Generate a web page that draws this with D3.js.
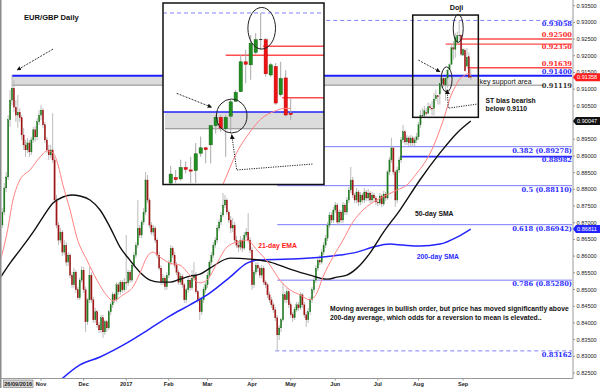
<!DOCTYPE html>
<html>
<head>
<meta charset="utf-8">
<title>EUR/GBP Daily</title>
<script src="https://cdn.jsdelivr.net/npm/d3@7/dist/d3.min.js"></script>
<style>
  body { margin: 0; background: #fff; }
  svg { display: block; font-family: "Liberation Sans", Arial, sans-serif; }
</style>
</head>
<body>
<svg id="chart" width="600" height="388"></svg>
<script>
// ---------- data (daily EUR/GBP candles, [open, high, low, close]) ----------
// bar 0 = 26 Sep 2016, one bar per trading day; first drawn bar is 4 Oct 2016
const firstBar = 6;

const oct16 = [
  [0.8693,0.8744,0.8684,0.8732],[0.8732,0.8819,0.8723,0.8804],[0.8804,0.8852,0.8792,0.8837],
  [0.8837,0.9022,0.8828,0.9008],[0.9008,0.9097,0.8987,0.9067],[0.9067,0.9142,0.9052,0.9103],
  [0.9103,0.9127,0.9031,0.9046],[0.9046,0.9067,0.9002,0.9022],[0.9022,0.9082,0.8984,0.9031],
  [0.9031,0.9043,0.9002,0.9014],[0.9014,0.9022,0.8948,0.8963],[0.8963,0.8984,0.8918,0.8933],
  [0.8933,0.8948,0.8897,0.8918],[0.8918,0.8954,0.8909,0.8939],[0.8939,0.8948,0.8897,0.8912],
  [0.8912,0.8957,0.8903,0.8948],[0.8948,0.8987,0.8939,0.8978],[0.8978,0.8990,0.8942,0.8957],
  [0.8957,0.9014,0.8948,0.9002],[0.9002,0.9037,0.8993,0.9022]
];
const nov16 = [
  [0.9022,0.9052,0.9008,0.9037],[0.9037,0.9043,0.8984,0.8993],[0.8993,0.9002,0.8939,0.8948],
  [0.8948,0.8957,0.8909,0.8918],[0.8918,0.8933,0.8888,0.8903],[0.8903,0.8933,0.8894,0.8918],
  [0.8918,0.9028,0.8879,0.8888],[0.8888,0.8897,0.8759,0.8768],[0.8768,0.8783,0.8684,0.8693],
  [0.8693,0.8702,0.8633,0.8648],[0.8648,0.8684,0.8639,0.8672],[0.8672,0.8678,0.8600,0.8612],
  [0.8612,0.8648,0.8603,0.8633],[0.8633,0.8642,0.8570,0.8582],[0.8582,0.8612,0.8570,0.8603],
  [0.8603,0.8609,0.8534,0.8543],[0.8543,0.8552,0.8505,0.8514],[0.8514,0.8564,0.8505,0.8552],
  [0.8552,0.8558,0.8490,0.8499],[0.8499,0.8508,0.8469,0.8475],[0.8475,0.8534,0.8469,0.8528],
  [0.8528,0.8570,0.8520,0.8558]
];
const dec16 = [
  [0.8558,0.8567,0.8490,0.8499],[0.8499,0.8508,0.8373,0.8403],[0.8403,0.8475,0.8394,0.8469],
  [0.8469,0.8567,0.8460,0.8543],[0.8543,0.8552,0.8460,0.8469],[0.8469,0.8478,0.8400,0.8409],
  [0.8409,0.8445,0.8400,0.8433],[0.8433,0.8439,0.8385,0.8394],[0.8394,0.8403,0.8370,0.8379],
  [0.8379,0.8424,0.8370,0.8415],[0.8415,0.8424,0.8355,0.8373],[0.8373,0.8409,0.8364,0.8403],
  [0.8403,0.8409,0.8373,0.8385],[0.8385,0.8439,0.8379,0.8433],[0.8433,0.8463,0.8424,0.8454],
  [0.8454,0.8493,0.8445,0.8484],[0.8484,0.8490,0.8460,0.8469],[0.8469,0.8522,0.8463,0.8514],
  [0.8514,0.8520,0.8484,0.8493],[0.8493,0.8528,0.8484,0.8522],[0.8522,0.8528,0.8490,0.8499],
  [0.8499,0.8534,0.8493,0.8522]
];
const jan17 = [
  [0.8522,0.8663,0.8499,0.8520],[0.8520,0.8558,0.8511,0.8552],[0.8552,0.8558,0.8520,0.8528],
  [0.8528,0.8582,0.8522,0.8573],[0.8573,0.8612,0.8564,0.8603],[0.8603,0.8642,0.8594,0.8633],
  [0.8633,0.8768,0.8624,0.8684],[0.8684,0.8693,0.8654,0.8663],[0.8663,0.8708,0.8654,0.8702],
  [0.8702,0.8744,0.8693,0.8732],[0.8732,0.8852,0.8723,0.8828],[0.8828,0.8843,0.8759,0.8768],
  [0.8768,0.8774,0.8684,0.8693],[0.8693,0.8702,0.8663,0.8672],[0.8672,0.8693,0.8660,0.8684],
  [0.8684,0.8690,0.8639,0.8648],[0.8648,0.8654,0.8594,0.8603],[0.8603,0.8612,0.8558,0.8564],
  [0.8564,0.8573,0.8514,0.8522],[0.8522,0.8546,0.8514,0.8534],[0.8534,0.8540,0.8499,0.8508],
  [0.8508,0.8552,0.8499,0.8543]
];
const feb17 = [
  [0.8543,0.8588,0.8534,0.8582],[0.8582,0.8633,0.8573,0.8624],[0.8624,0.8630,0.8594,0.8603],
  [0.8603,0.8612,0.8564,0.8573],[0.8573,0.8582,0.8543,0.8552],[0.8552,0.8558,0.8514,0.8522],
  [0.8522,0.8549,0.8514,0.8540],[0.8540,0.8546,0.8505,0.8514],[0.8514,0.8520,0.8460,0.8469],
  [0.8469,0.8505,0.8460,0.8499],[0.8499,0.8537,0.8490,0.8528],[0.8528,0.8534,0.8496,0.8505],
  [0.8505,0.8558,0.8499,0.8534],[0.8534,0.8582,0.8525,0.8543],[0.8543,0.8552,0.8487,0.8493],
  [0.8493,0.8499,0.8460,0.8469],[0.8469,0.8478,0.8409,0.8433],[0.8433,0.8475,0.8424,0.8469],
  [0.8469,0.8508,0.8460,0.8499],[0.8499,0.8522,0.8490,0.8514]
];
const mar17 = [
  [0.8514,0.8552,0.8505,0.8543],[0.8543,0.8588,0.8534,0.8582],[0.8582,0.8612,0.8573,0.8603],
  [0.8603,0.8642,0.8594,0.8633],[0.8633,0.8657,0.8624,0.8648],[0.8648,0.8693,0.8639,0.8684],
  [0.8684,0.8711,0.8675,0.8702],[0.8702,0.8732,0.8693,0.8723],[0.8723,0.8789,0.8717,0.8753],
  [0.8753,0.8783,0.8744,0.8768],[0.8768,0.8774,0.8723,0.8732],[0.8732,0.8738,0.8699,0.8708],
  [0.8708,0.8720,0.8669,0.8684],[0.8684,0.8714,0.8672,0.8693],[0.8693,0.8702,0.8639,0.8648],
  [0.8648,0.8660,0.8624,0.8633],[0.8633,0.8642,0.8612,0.8627],[0.8627,0.8660,0.8618,0.8648],
  [0.8648,0.8654,0.8612,0.8624],[0.8624,0.8672,0.8618,0.8663],[0.8663,0.8684,0.8654,0.8672],
  [0.8672,0.8729,0.8639,0.8648],[0.8648,0.8657,0.8609,0.8618]
];
const apr17 = [
  [0.8618,0.8627,0.8499,0.8514],[0.8514,0.8558,0.8505,0.8552],[0.8552,0.8582,0.8543,0.8573],
  [0.8573,0.8582,0.8552,0.8564],[0.8564,0.8570,0.8534,0.8543],[0.8543,0.8573,0.8534,0.8564],
  [0.8564,0.8570,0.8514,0.8522],[0.8522,0.8528,0.8505,0.8514],[0.8514,0.8520,0.8475,0.8484],
  [0.8484,0.8493,0.8460,0.8469],[0.8469,0.8478,0.8445,0.8454],[0.8454,0.8463,0.8430,0.8439],
  [0.8439,0.8448,0.8406,0.8415],[0.8415,0.8424,0.8316,0.8364],[0.8364,0.8394,0.8349,0.8385],
  [0.8385,0.8415,0.8373,0.8409],[0.8409,0.8520,0.8403,0.8484],[0.8484,0.8493,0.8460,0.8469],
  [0.8469,0.8505,0.8460,0.8493],[0.8493,0.8499,0.8445,0.8454]
];
const may17 = [
  [0.8454,0.8463,0.8415,0.8424],[0.8424,0.8433,0.8403,0.8415],[0.8415,0.8448,0.8409,0.8439],
  [0.8439,0.8463,0.8433,0.8454],[0.8454,0.8463,0.8436,0.8445],[0.8445,0.8493,0.8439,0.8484],
  [0.8484,0.8490,0.8445,0.8454],[0.8454,0.8463,0.8415,0.8424],[0.8424,0.8433,0.8388,0.8409],
  [0.8409,0.8445,0.8400,0.8433],[0.8433,0.8478,0.8424,0.8469],[0.8469,0.8508,0.8460,0.8499],
  [0.8499,0.8537,0.8490,0.8528],[0.8528,0.8573,0.8520,0.8564],[0.8564,0.8597,0.8555,0.8588],
  [0.8588,0.8603,0.8573,0.8582],[0.8582,0.8621,0.8576,0.8612],[0.8612,0.8642,0.8603,0.8633],
  [0.8633,0.8663,0.8624,0.8654],[0.8654,0.8702,0.8645,0.8693],[0.8693,0.8732,0.8684,0.8723],
  [0.8723,0.8732,0.8699,0.8708],[0.8708,0.8747,0.8699,0.8738]
];
const jun17 = [
  [0.8738,0.8762,0.8729,0.8753],[0.8753,0.8759,0.8693,0.8702],[0.8702,0.8741,0.8693,0.8732],
  [0.8732,0.8738,0.8699,0.8708],[0.8708,0.8762,0.8699,0.8753],[0.8753,0.8759,0.8723,0.8732],
  [0.8732,0.8777,0.8723,0.8768],[0.8768,0.8807,0.8759,0.8798],[0.8798,0.8867,0.8789,0.8828],
  [0.8828,0.8837,0.8774,0.8783],[0.8783,0.8789,0.8759,0.8768],[0.8768,0.8804,0.8759,0.8792],
  [0.8792,0.8798,0.8750,0.8762],[0.8762,0.8792,0.8753,0.8783],[0.8783,0.8789,0.8759,0.8768],
  [0.8768,0.8804,0.8759,0.8792],[0.8792,0.8798,0.8765,0.8774],[0.8774,0.8801,0.8765,0.8789],
  [0.8789,0.8795,0.8759,0.8768],[0.8768,0.8792,0.8759,0.8783],[0.8783,0.8789,0.8765,0.8774],
  [0.8774,0.8780,0.8753,0.8762]
];
const jul17 = [
  [0.8762,0.8768,0.8750,0.8759],[0.8759,0.8789,0.8753,0.8780],[0.8780,0.8786,0.8747,0.8756],
  [0.8756,0.8795,0.8750,0.8786],[0.8786,0.8792,0.8765,0.8774],[0.8774,0.8858,0.8768,0.8852],
  [0.8852,0.8897,0.8843,0.8888],[0.8888,0.8954,0.8879,0.8924],[0.8924,0.8930,0.8843,0.8852],
  [0.8852,0.8858,0.8747,0.8768],[0.8768,0.8867,0.8759,0.8858],[0.8858,0.8897,0.8849,0.8888],
  [0.8888,0.8957,0.8879,0.8948],[0.8948,0.8993,0.8939,0.8972],[0.8972,0.8978,0.8933,0.8942],
  [0.8942,0.8963,0.8933,0.8954],[0.8954,0.8960,0.8930,0.8939],[0.8939,0.8963,0.8930,0.8954],
  [0.8954,0.8960,0.8927,0.8939],[0.8939,0.8957,0.8930,0.8948],[0.8948,0.8969,0.8939,0.8957]
];
const aug17 = [
  [0.8957,0.9002,0.8948,0.8993],[0.8993,0.9037,0.8984,0.9022],[0.9022,0.9043,0.9014,0.9021],
  [0.9021,0.9050,0.9015,0.9036],[0.9030,0.9043,0.9021,0.9027],[0.9028,0.9060,0.9025,0.9047],
  [0.9047,0.9057,0.9037,0.9044],[0.9043,0.9065,0.9021,0.9041],[0.9042,0.9088,0.9021,0.9070],
  [0.9071,0.9099,0.9065,0.9080],[0.9080,0.9082,0.9054,0.9077],[0.9085,0.9118,0.9054,0.9117],
  [0.9117,0.9135,0.9104,0.9131],[0.9131,0.9135,0.9107,0.9113],[0.9112,0.9135,0.9065,0.9131],
  [0.9133,0.9160,0.9104,0.9157],[0.9158,0.9177,0.9157,0.9173],[0.9174,0.9236,0.9174,0.9224],
  [0.9224,0.9244,0.9188,0.9220],[0.9219,0.9269,0.9194,0.9255],[0.9240,0.9272,0.9236,0.9261],
  [0.9262,0.93058,0.9244,0.9261],[0.9261,0.9264,0.9199,0.9204]
];
const sep17 = [
  [0.9202,0.9222,0.9199,0.9219],[0.9216,0.9222,0.9152,0.9155],[0.9169,0.9224,0.9166,0.9196],
  [0.9197,0.9210,0.9133,0.9135],[0.9138,0.9163,0.9127,0.91358]
];

// moving averages, sampled [bar, value]
const ema21 = [
  [4.8,0.8582],[8.4,0.8669],[11.5,0.8768],[15.1,0.8828],[20.3,0.8858],[25.5,0.8897],[29.1,0.8915],
  [32.2,0.8909],[34.8,0.8873],[37.3,0.8813],[41,0.8738],[44.6,0.8654],[49.7,0.8588],[54.9,0.8528],
  [60.1,0.8481],[63.2,0.8466],[68.3,0.8484],[73.5,0.8508],[77.1,0.8549],[80.7,0.8597],[83.8,0.8612],
  [87.4,0.8597],[92.6,0.8579],[97.8,0.8573],[102.9,0.8543],[108.1,0.8520],[111.7,0.8528],[116.9,0.8579],
  [122,0.8627],[127.2,0.8642],[132.4,0.8648],[137.6,0.8618],[144.3,0.8573],[149.4,0.8528],[154.6,0.8499],
  [159.8,0.8484],[164.9,0.8469],[168.5,0.8490],[171.6,0.8537],[176.8,0.8597],[182,0.8648],[187.1,0.8702],
  [192.3,0.8738],[199.5,0.8768],[204.7,0.8783],[209.9,0.8798],[215,0.8813],[220.2,0.8849],[224,0.8878],
  [228,0.8920],[232,0.8978],[234.5,0.9020],[237.2,0.9072],[240,0.9108],[242,0.9128],[244.7,0.9141],
  [246.7,0.9146],[248,0.9146]
];
const sma50 = [
  [4.8,0.8534],[10,0.8579],[15.1,0.8618],[21.9,0.8672],[27,0.8717],[32.2,0.8759],[37.3,0.8777],
  [42,0.8783],[46.1,0.8780],[51.3,0.8768],[56.5,0.8738],[61.6,0.8687],[66.8,0.8627],[71.9,0.8588],
  [77.1,0.8552],[82.3,0.8528],[87.4,0.8522],[92.6,0.8522],[97.8,0.8531],[102.9,0.8540],[108.1,0.8546],
  [113.3,0.8564],[123.6,0.8594],[133.9,0.8591],[144.3,0.8582],[154.6,0.8561],[164.9,0.8543],
  [173.7,0.8531],[178.9,0.8537],[184,0.8543],[189.2,0.8564],[195.9,0.8609],[202.6,0.8669],
  [211.4,0.8738],[221.7,0.8828],[232.1,0.8909],[240.9,0.8969],[248,0.90047]
];
const sma200 = [
  [36.5,0.8231],[46.1,0.8274],[56.5,0.8298],[70.4,0.8340],[81.3,0.8379],[92.6,0.8421],[102.9,0.8454],
  [113.3,0.8490],[123.6,0.8537],[132.4,0.8579],[137.6,0.8588],[154.6,0.8591],[171.6,0.8597],
  [180.4,0.8603],[189.2,0.8612],[197.5,0.8627],[206.2,0.8636],[212.9,0.8633],[221.7,0.8630],
  [232.1,0.8636],[240.9,0.8657],[248,0.86811]
];

// horizontal levels
const fibLevels = [
  { value: 0.93058, label: "0.93058",         from: 148,   dy: 3,   dashed: true },
  { value: 0.89278, label: "0.382 (0.89278)", from: 148,   dy: 4 },
  { value: 0.88982, label: "0.88982",         from: 211.4, dy: 3.5, bold: true },
  { value: 0.88110, label: "0.5 (0.88110)",   from: 148,   dy: 4 },
  { value: 0.86942, label: "0.618 (0.86942)", from: 148,   dy: 4 },
  { value: 0.85280, label: "0.786 (0.85280)", from: 148,   dy: 3.5 },
  { value: 0.83162, label: "0.83162",         from: 147,   dy: 3.5, dashed: true }
];
const redLevels = [
  { value: 0.92500, label: "0.92500", from: 242.5, dy: -4 },
  { value: 0.92350, label: "0.92350", from: 235,   dy: 2.5 },
  { value: 0.91639, label: "0.91639", from: 246.3, dy: -4.5 }
];
const support = { top: 0.91400, bottom: 0.91119, from: 11 };

const priceTicks = [0.935,0.930,0.925,0.920,0.915,0.910,0.905,0.900,0.895,0.890,0.885,0.880,
  0.875,0.870,0.865,0.860,0.855,0.850,0.845,0.840,0.835,0.830,0.825];
const monthTicks = [
  { label: "Nov", bar: 26 }, { label: "Dec", bar: 48 }, { label: "2017", bar: 70 },
  { label: "Feb", bar: 92 }, { label: "Mar", bar: 112 }, { label: "Apr", bar: 135 },
  { label: "May", bar: 155 }, { label: "Jun", bar: 178 }, { label: "Jul", bar: 200 },
  { label: "Aug", bar: 221 }, { label: "Sep", bar: 244 }
];
const priceTags = [
  { value: 0.91358, text: "0.91358", fill: "#ff1f1f" },
  { value: 0.90047, text: "0.90047", fill: "#111" },
  { value: 0.86811, text: "0.86811", fill: "#2323ff" }
];

// ---------- build ----------
const candles = [oct16, nov16, dec16, jan17, feb17, mar17, apr17, may17, jun17, jul17, aug17, sep17]
  .flat()
  .map((d, i) => ({ bar: firstBar + i, o: d[0], h: d[1], l: d[2], c: d[3] }));

const svg = d3.select("#chart");
const axisX = 573, axisY = 378.5;

const x = d3.scaleLinear().domain([4.8, 300.8]).range([0, 573]);
const y = d3.scaleLinear().domain([0.9367, 0.8229]).range([0, 380]);

const inset = { x0: 163, y0: 3, x1: 324, y1: 184.5 };
const xi = d3.scaleLinear().domain([222.46, 254.66]).range([inset.x0, inset.x1]);
const yi = d3.scaleLinear().domain([0.93225, 0.90186]).range([inset.y0, inset.y1]);

const defs = svg.append("defs");
defs.append("clipPath").attr("id", "clipMain").append("rect")
  .attr("x", 1.5).attr("y", 0).attr("width", axisX - 1.5).attr("height", axisY);
defs.append("clipPath").attr("id", "clipInset").append("rect")
  .attr("x", inset.x0).attr("y", inset.y0)
  .attr("width", inset.x1 - inset.x0).attr("height", inset.y1 - inset.y0);
defs.append("marker").attr("id", "arrow")
  .attr("viewBox", "0 0 10 10").attr("refX", 9).attr("refY", 5)
  .attr("markerWidth", 5).attr("markerHeight", 5)
  .attr("orient", "auto-start-reverse")
  .append("path").attr("d", "M0,0L10,5L0,10z").attr("fill", "#111");

svg.append("rect").attr("width", 600).attr("height", 388).attr("fill", "#fff");

function hline(g, x1, x2, yy, stroke, w, dash) {
  g.append("line").attr("x1", x1).attr("x2", x2).attr("y1", yy).attr("y2", yy)
    .attr("stroke", stroke).attr("stroke-width", w)
    .attr("stroke-dasharray", dash || null);
}

function drawCandles(g, data, xs, ys, bodyW, col) {
  const c = g.append("g").selectAll("g").data(data).enter().append("g");
  c.append("line")
    .attr("x1", d => xs(d.bar)).attr("x2", d => xs(d.bar))
    .attr("y1", d => ys(d.h)).attr("y2", d => ys(d.l))
    .attr("stroke", col.wick).attr("stroke-width", col.wickW);
  c.append("rect")
    .attr("x", d => xs(d.bar) - bodyW / 2)
    .attr("y", d => ys(Math.max(d.o, d.c)))
    .attr("width", bodyW)
    .attr("height", d => Math.max(0.9, Math.abs(ys(d.o) - ys(d.c))))
    .attr("fill", d => Math.abs(d.o - d.c) < 0.00015 ? col.doji : (d.c > d.o ? col.up : col.down))
    .attr("stroke", d => Math.abs(d.o - d.c) < 0.00015 ? "none" : (d.c > d.o ? col.upEdge : col.downEdge))
    .attr("stroke-width", col.edgeW);
}

function maLine(xs, ys) {
  return d3.line().x(d => xs(d[0])).y(d => ys(d[1])).curve(d3.curveMonotoneX);
}

// ---------- main panel ----------
const main = svg.append("g").attr("clip-path", "url(#clipMain)");

// support band
main.append("rect")
  .attr("x", x(support.from)).attr("y", y(support.top))
  .attr("width", 478 - x(support.from)).attr("height", y(support.bottom) - y(support.top))
  .attr("fill", "#dcdcdc");
hline(main, x(support.from), 544, y(support.bottom), "#8a8a8a", 1);

fibLevels.forEach(f => {
  hline(main, x(f.from), axisX - 1, y(f.value),
    f.bold ? "#2a2aff" : (f.dashed ? "#8080ff" : "#7b7bff"),
    f.bold ? 1.7 : 1, f.dashed ? "4,3" : null);
});
redLevels.forEach(r => hline(main, x(r.from), axisX - 1, y(r.value), "#ff4d4d", 1.4));
hline(main, x(support.from), axisX - 1, y(support.top), "#2020ff", 2);

drawCandles(main, candles, x, y, 1.4, {
  wick: "#b4b4b4", wickW: 0.9, up: "#1f7a1f", down: "#a01515", doji: "#333",
  upEdge: "#1f7a1f", downEdge: "#a01515", edgeW: 0.2
});

main.append("path").datum(sma200).attr("d", maLine(x, y))
  .attr("fill", "none").attr("stroke", "#2424ff").attr("stroke-width", 1.5);
main.append("path").datum(sma50).attr("d", maLine(x, y))
  .attr("fill", "none").attr("stroke", "#111").attr("stroke-width", 1.4);
main.append("path").datum(ema21).attr("d", maLine(x, y))
  .attr("fill", "none").attr("stroke", "#ff8080").attr("stroke-width", 1);

// annotations on the main panel
const ann = svg.append("g");
ann.append("line")
  .attr("x1", x(32.2)).attr("y1", y(0.9220)).attr("x2", x(13.6)).attr("y2", y(0.9157))
  .attr("stroke", "#222").attr("stroke-width", 0.9).attr("stroke-dasharray", "2,1.2")
  .attr("marker-end", "url(#arrow)");
ann.append("rect")
  .attr("x", x(218)).attr("y", y(0.93219))
  .attr("width", x(251.9) - x(218)).attr("height", y(0.90156) - y(0.93219))
  .attr("fill", "none").attr("stroke", "#111").attr("stroke-width", 1.5);
ann.append("line")
  .attr("x1", x(220.9)).attr("y1", y(0.9187)).attr("x2", x(232.1)).attr("y2", y(0.9152))
  .attr("stroke", "#222").attr("stroke-width", 0.9).attr("stroke-dasharray", "2,1.2")
  .attr("marker-end", "url(#arrow)");
ann.append("ellipse").attr("cx", x(241.5)).attr("cy", y(0.9282)).attr("rx", 5).attr("ry", 14)
  .attr("fill", "none").attr("stroke", "#222").attr("stroke-width", 1);
ann.append("ellipse").attr("cx", x(235.5)).attr("cy", y(0.91293)).attr("rx", 5.5).attr("ry", 12.5)
  .attr("fill", "none").attr("stroke", "#222").attr("stroke-width", 1);
ann.append("path")
  .attr("d", d3.line()([[x(235.8), y(0.9098)], [x(236.4), y(0.9043)], [x(251), y(0.9055)]]))
  .attr("fill", "none").attr("stroke", "#222").attr("stroke-width", 1)
  .attr("stroke-dasharray", "1.2,1.2").attr("marker-start", "url(#arrow)");

// ---------- inset (zoom on the last 25 sessions) ----------
const ins = svg.append("g");
ins.append("rect")
  .attr("x", inset.x0).attr("y", inset.y0)
  .attr("width", inset.x1 - inset.x0).attr("height", inset.y1 - inset.y0)
  .attr("fill", "#fff");
const insC = ins.append("g").attr("clip-path", "url(#clipInset)");
insC.append("rect")
  .attr("x", inset.x0 + 2).attr("y", yi(support.top))
  .attr("width", inset.x1 - inset.x0).attr("height", yi(support.bottom) - yi(support.top))
  .attr("fill", "#dcdcdc");
hline(insC, inset.x0 + 2, inset.x1, yi(support.bottom), "#8a8a8a", 1);
hline(insC, inset.x0, inset.x1, yi(fibLevels[0].value), "#8080ff", 1, "4,3");
redLevels.forEach(r => hline(insC, xi(r.from), inset.x1, yi(r.value), "#ff4d4d", 1.4));
hline(insC, inset.x0, inset.x1, yi(support.top), "#2020ff", 1.6);
drawCandles(insC, candles.filter(d => d.bar >= 224), xi, yi, 3.2, {
  wick: "#a8a8a8", wickW: 1, up: "#1f8f1f", down: "#f01212", doji: "#222",
  upEdge: "#0d5c0d", downEdge: "#b00000", edgeW: 0.5
});
insC.append("path").datum(ema21.filter(d => d[0] >= 230)).attr("d", maLine(xi, yi))
  .attr("fill", "none").attr("stroke", "#ff8080").attr("stroke-width", 1);

insC.append("ellipse").attr("cx", xi(242.2)).attr("cy", yi(0.92802)).attr("rx", 13.8).attr("ry", 20.8)
  .attr("fill", "none").attr("stroke", "#222").attr("stroke-width", 1);
insC.append("ellipse").attr("cx", xi(236.2)).attr("cy", yi(0.91333)).attr("rx", 15.3).attr("ry", 17)
  .attr("fill", "none").attr("stroke", "#222").attr("stroke-width", 1);
insC.append("line")
  .attr("x1", xi(225.2)).attr("y1", yi(0.91713)).attr("x2", xi(232.2)).attr("y2", yi(0.91479))
  .attr("stroke", "#222").attr("stroke-width", 0.9).attr("stroke-dasharray", "2,1.2")
  .attr("marker-end", "url(#arrow)");
insC.append("path")
  .attr("d", d3.line()([[xi(236.2), yi(0.9102)], [xi(237.2), yi(0.90429)], [xi(252.4), yi(0.90529)]]))
  .attr("fill", "none").attr("stroke", "#222").attr("stroke-width", 1)
  .attr("stroke-dasharray", "1.2,1.2").attr("marker-start", "url(#arrow)");
ins.append("rect")
  .attr("x", inset.x0).attr("y", inset.y0)
  .attr("width", inset.x1 - inset.x0).attr("height", inset.y1 - inset.y0)
  .attr("fill", "none").attr("stroke", "#111").attr("stroke-width", 1.5);

// ---------- level labels ----------
const lab = svg.append("g")
  .attr("font-family", "'DejaVu Serif', 'Liberation Serif', serif")
  .attr("font-weight", "bold").attr("font-size", 6.7).attr("text-anchor", "end");
fibLevels.forEach(f => lab.append("text").attr("x", axisX - 1).attr("y", y(f.value) + f.dy + 2.4)
  .attr("fill", "#2b2bff").text(f.label));
redLevels.forEach(r => lab.append("text").attr("x", axisX - 1).attr("y", y(r.value) + r.dy + 2.4)
  .attr("fill", "#ff2a2a").text(r.label));
lab.append("text").attr("x", axisX - 1).attr("y", y(support.top) - 4 + 2.4)
  .attr("fill", "#2b2bff").text("0.91400");
lab.append("text").attr("x", axisX - 1).attr("y", y(support.bottom) + 2.4)
  .attr("fill", "#333").text("0.91119");

// ---------- axes ----------
const axes = svg.append("g").attr("font-size", 5.6).attr("fill", "#222");
axes.append("line").attr("x1", axisX).attr("x2", axisX).attr("y1", 0).attr("y2", axisY)
  .attr("stroke", "#999").attr("stroke-width", 1);
axes.append("line").attr("x1", 0).attr("x2", axisX).attr("y1", axisY).attr("y2", axisY)
  .attr("stroke", "#999").attr("stroke-width", 1);
axes.append("line").attr("x1", 0.75).attr("x2", 0.75).attr("y1", 0).attr("y2", 388)
  .attr("stroke", "#8c8c8c").attr("stroke-width", 1.5);
priceTicks.forEach(p => {
  axes.append("line").attr("x1", axisX).attr("x2", axisX + 2).attr("y1", y(p)).attr("y2", y(p))
    .attr("stroke", "#999");
  axes.append("text").attr("x", axisX + 3.5).attr("y", y(p) + 2).text(d3.format(".5f")(p));
});
monthTicks.forEach(m => {
  axes.append("line").attr("x1", x(m.bar)).attr("x2", x(m.bar)).attr("y1", axisY).attr("y2", axisY + 2)
    .attr("stroke", "#999");
  axes.append("text").attr("x", x(m.bar)).attr("y", 386).attr("text-anchor", "middle")
    .attr("font-weight", "bold").text(m.label);
});
axes.append("rect").attr("x", 3.5).attr("y", 380).attr("width", 29.5).attr("height", 7.5)
  .attr("fill", "#d6d6d6").attr("stroke", "#777").attr("stroke-width", 0.6);
axes.append("text").attr("x", 18.2).attr("y", 386).attr("text-anchor", "middle")
  .attr("font-weight", "bold").text("26/09/2016");

priceTags.forEach(t => {
  const yy = y(t.value);
  axes.append("path")
    .attr("d", `M${axisX},${yy} L${axisX + 3},${yy - 4} L600,${yy - 4} L600,${yy + 4} L${axisX + 3},${yy + 4}Z`)
    .attr("fill", t.fill);
  axes.append("text").attr("x", axisX + 4).attr("y", yy + 2).attr("fill", "#fff").text(t.text);
});

// ---------- notes ----------
const notes = [
  { text: "EUR/GBP Daily", x: 24, y: 19.5, size: 7.6 },
  { text: "Doji", x: 456.5, y: 9.5, size: 7.2, anchor: "middle" },
  { text: "key support area", x: 479.5, y: 83.5, size: 7, weight: "normal" },
  { text: "ST bias bearish", x: 485.5, y: 102.5, size: 6.8 },
  { text: "below 0.9110", x: 485.5, y: 111, size: 6.8 },
  { text: "50-day SMA", x: 415, y: 215.7, size: 6.8 },
  { text: "21-day EMA", x: 258.3, y: 247.7, size: 6.8, fill: "#ff2020" },
  { text: "200-day SMA", x: 416.7, y: 259, size: 6.8, fill: "#2a2aff" },
  { text: "Moving averages in bullish order, but price has moved significantly above", x: 330, y: 310.5, size: 6.8 },
  { text: "200-day average, which odds for a reversion to mean is elevated..", x: 330, y: 320, size: 6.8 }
];
svg.append("g").selectAll("text").data(notes).enter().append("text")
  .attr("x", d => d.x).attr("y", d => d.y)
  .attr("font-size", d => d.size)
  .attr("font-weight", d => d.weight || "bold")
  .attr("text-anchor", d => d.anchor || "start")
  .attr("fill", d => d.fill || "#111")
  .text(d => d.text);
</script>
</body>
</html>
